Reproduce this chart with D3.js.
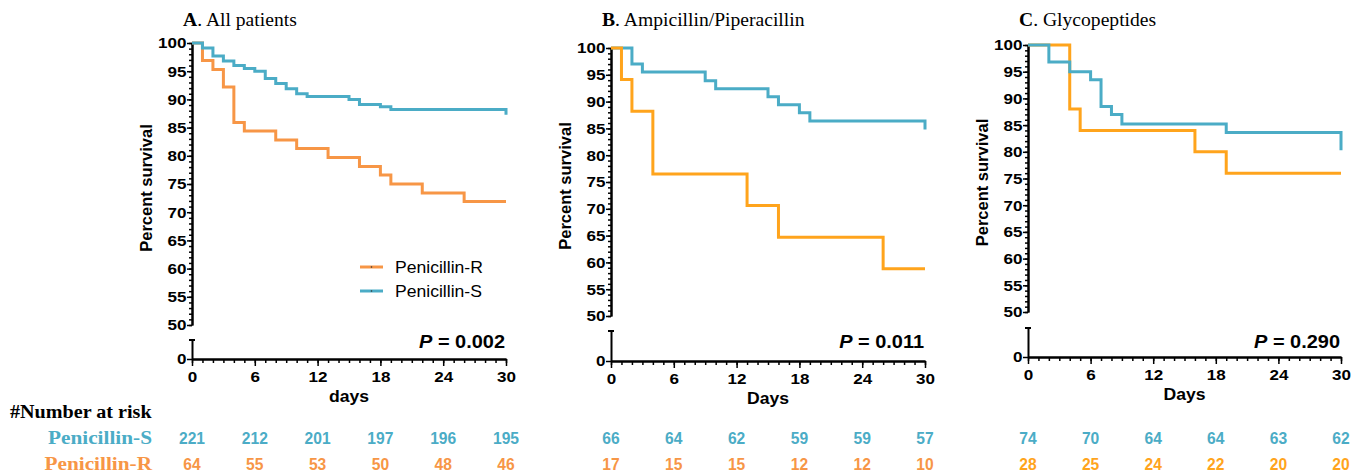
<!DOCTYPE html>
<html>
<head>
<meta charset="utf-8">
<script src="https://cdn.jsdelivr.net/npm/d3@7"></script>
<style>
body { margin: 0; background: #fff; }
svg { display: block; }
</style>
</head>
<body>
<svg id="chart" width="1362" height="474"></svg>
<script>
// values
var xTicks = [0, 6, 12, 18, 24, 30];
var yTicks = [50, 55, 60, 65, 70, 75, 80, 85, 90, 95, 100];
var riskDays = [0, 6, 12, 18, 24, 30];

// A. All patients
var daysAllS = [0, 1, 2, 3, 4, 5, 6, 7, 8, 9, 10, 11, 15, 16, 18, 19, 30];
var survAllS = [100, 99.1, 97.7, 96.8, 96.0, 95.5, 95.0, 93.7, 92.8, 91.9, 91.0, 90.5, 90.0, 89.1, 88.7, 88.2, 87.3];
var daysAllR = [0, 1, 2, 3, 4, 5, 8, 10, 13, 16, 18, 19, 22, 26, 30];
var survAllR = [100, 96.9, 95.3, 92.2, 85.9, 84.4, 82.8, 81.3, 79.7, 78.1, 76.6, 75.0, 73.4, 71.9, 71.9];
var riskAllS = [221, 212, 201, 197, 196, 195];
var riskAllR = [64, 55, 53, 50, 48, 46];

// B. Ampicillin/Piperacillin
var daysAmpS = [0, 2, 3, 9, 10, 15, 16, 18, 19, 30];
var survAmpS = [100, 97.0, 95.5, 93.9, 92.4, 90.9, 89.4, 87.9, 86.4, 84.8];
var daysAmpR = [0, 1, 2, 4, 13, 16, 26, 30];
var survAmpR = [100, 94.1, 88.2, 76.5, 70.6, 64.7, 58.8, 58.8];
var riskAmpS = [66, 64, 62, 59, 59, 57];
var riskAmpR = [17, 15, 15, 12, 12, 10];

// C. Glycopeptides
var daysGlyS = [0, 2, 4, 6, 7, 8, 9, 19, 30];
var survGlyS = [100, 96.8, 95.0, 93.5, 88.5, 87.0, 85.2, 83.6, 80.3];
var daysGlyR = [0, 4, 5, 16, 19, 30];
var survGlyR = [100, 88.0, 84.0, 80.0, 76.0, 76.0];
var riskGlyS = [74, 70, 64, 64, 63, 62];
var riskGlyR = [28, 25, 24, 22, 20, 20];

var blue = '#4bacc6', orangeA = '#f79646', orangeB = '#ffa41c';
var sans = 'Liberation Sans, Arial, sans-serif';
var serif = 'Liberation Serif, Times New Roman, serif';
var sx = 1.1; // the figure is a bit wider than tall

var panels = [
  { key: 'A', title: '. All patients', xLabel: 'days', p: '0.002',
    x0: 192, x30: 506, y100: 43, y50: 325, yBreak: 340, y0: 359,
    dS: daysAllS, sS: survAllS, dR: daysAllR, sR: survAllR,
    rS: riskAllS, rR: riskAllR, colR: orangeA, riskColR: orangeA, orangeOnTop: false },
  { key: 'B', title: '. Ampicillin/Piperacillin', xLabel: 'Days', p: '0.011',
    x0: 611, x30: 925, y100: 48, y50: 316, yBreak: 331, y0: 361,
    dS: daysAmpS, sS: survAmpS, dR: daysAmpR, sR: survAmpR,
    rS: riskAmpS, rR: riskAmpR, colR: orangeB, riskColR: orangeA, orangeOnTop: true },
  { key: 'C', title: '. Glycopeptides', xLabel: 'Days', p: '0.290',
    x0: 1028, x30: 1341, y100: 45, y50: 312, yBreak: 328, y0: 357,
    dS: daysGlyS, sS: survGlyS, dR: daysGlyR, sR: survGlyR,
    rS: riskGlyS, rR: riskGlyR, colR: orangeB, riskColR: orangeB, orangeOnTop: false }
];

var svg = d3.select('#chart');
svg.append('rect').attr('width', 1362).attr('height', 474).attr('fill', '#fff');

function label(g, x, y, str, o) {
  return g.append('text')
    .attr('transform', 'translate(' + x + ',' + y + ') scale(' + (o.sx || sx) + ',1)')
    .attr('font-family', o.font || sans)
    .attr('font-size', o.size)
    .attr('font-weight', o.weight || 'normal')
    .attr('text-anchor', o.anchor || 'start')
    .attr('fill', o.fill || '#000')
    .text(str);
}

function styleAxis(sel) {
  sel.select('.domain').attr('stroke', '#000').attr('stroke-width', 2);
  sel.selectAll('.tick line').attr('stroke', '#000').attr('stroke-width', 1.5);
  sel.selectAll('text')
    .attr('font-family', sans).attr('font-weight', 'bold')
    .attr('font-size', 15.5).attr('fill', '#000')
    .attr('transform', 'scale(' + sx + ',1)');
}

panels.forEach(function(p) {
  var x = d3.scaleLinear().domain([0, 30]).range([p.x0, p.x30]);
  var y = d3.scaleLinear().domain([50, 100]).range([p.y50, p.y100]);
  var yLow = d3.scaleLinear().domain([0, 1]).range([p.y0, p.yBreak]);
  var g = svg.append('g');

  // y axis, upper segment
  g.append('g').attr('transform', 'translate(' + p.x0 + ',0)')
    .call(d3.axisLeft(y).tickValues(d3.range(50, 101)).tickSize(3).tickSizeOuter(0).tickFormat(''))
    .call(styleAxis);
  g.append('g').attr('transform', 'translate(' + p.x0 + ',0)')
    .call(d3.axisLeft(y).tickValues(yTicks).tickSize(5).tickSizeOuter(0).tickPadding(0))
    .call(styleAxis);

  // y axis, lower segment (broken)
  g.append('g').attr('transform', 'translate(' + p.x0 + ',0)')
    .call(d3.axisLeft(yLow).tickValues([0]).tickFormat(d3.format('d')).tickSize(5).tickSizeOuter(0).tickPadding(0))
    .call(styleAxis);
  g.append('line')
    .attr('x1', p.x0 - 3).attr('x2', p.x0 + 3)
    .attr('y1', yLow(1)).attr('y2', yLow(1))
    .attr('stroke', '#000').attr('stroke-width', 2);

  // x axis
  g.append('g').attr('transform', 'translate(0,' + p.y0 + ')')
    .call(d3.axisBottom(x).tickValues(d3.range(0, 31)).tickSize(4).tickSizeOuter(0).tickFormat(''))
    .call(styleAxis);
  g.append('g').attr('transform', 'translate(0,' + p.y0 + ')')
    .call(d3.axisBottom(x).tickValues(xTicks).tickSize(7).tickSizeOuter(0).tickPadding(5))
    .call(styleAxis);

  // curves
  var line = d3.line()
    .x(function(d) { return x(d[0]); })
    .y(function(d) { return y(d[1]); })
    .curve(d3.curveStepAfter);
  var ptsS = p.dS.map(function(d, i) { return [d, p.sS[i]]; });
  var ptsR = p.dR.map(function(d, i) { return [d, p.sR[i]]; });
  var curves = p.orangeOnTop
    ? [[ptsS, blue], [ptsR, p.colR]]
    : [[ptsR, p.colR], [ptsS, blue]];
  curves.forEach(function(c) {
    g.append('path').datum(c[0])
      .attr('d', line)
      .attr('fill', 'none')
      .attr('stroke', c[1])
      .attr('stroke-width', 3)
      .attr('stroke-linejoin', 'miter');
  });

  // titles
  var t = label(g, p.x0 - 9, 26, '', { font: serif, size: 18.5, sx: 1.06 });
  t.append('tspan').attr('font-weight', 'bold').text(p.key);
  t.append('tspan').text(p.title);

  g.append('text')
    .attr('transform', 'translate(' + (p.x0 - 46) + ',' + ((p.y100 + p.y50) / 2 + 4) + ') rotate(-90)')
    .attr('dy', '0.35em')
    .attr('text-anchor', 'middle')
    .attr('font-family', sans).attr('font-weight', 'bold').attr('font-size', 16.5)
    .text('Percent survival');

  label(g, (p.x0 + p.x30) / 2, p.y0 + 43, p.xLabel, { size: 16, weight: 'bold', anchor: 'middle' });

  var pv = label(g, p.x30 - 1, 348, '', { size: 19, weight: 'bold', anchor: 'end', sx: 1.05 });
  pv.append('tspan').attr('font-style', 'italic').text('P');
  pv.append('tspan').text(' = ' + p.p);

  // number at risk
  riskDays.forEach(function(d, i) {
    label(g, x(d), 444, p.rS[i], { size: 17, weight: 'bold', anchor: 'middle', fill: blue, sx: 0.92 });
    label(g, x(d), 470, p.rR[i], { size: 17, weight: 'bold', anchor: 'middle', fill: p.riskColR, sx: 0.92 });
  });
});

// legend in panel A
var legend = [['Penicillin-R', orangeA], ['Penicillin-S', blue]];
legend.forEach(function(l, i) {
  var ly = 267 + i * 24;
  svg.append('line').attr('x1', 360).attr('x2', 383).attr('y1', ly).attr('y2', ly)
    .attr('stroke', l[1]).attr('stroke-width', 3);
  svg.append('circle').attr('cx', 371.5).attr('cy', ly).attr('r', 0.8).attr('fill', '#333');
  label(svg, 395, ly + 6, l[0], { size: 16 });
});

// risk table labels
label(svg, 10, 418, '#Number at risk', { font: serif, size: 19, weight: 'bold', sx: 1.06 });
label(svg, 152, 444, 'Penicillin-S', { font: serif, size: 19, weight: 'bold', anchor: 'end', fill: blue, sx: 1.12 });
label(svg, 152, 470, 'Penicillin-R', { font: serif, size: 19, weight: 'bold', anchor: 'end', fill: orangeA, sx: 1.12 });
</script>
</body>
</html>
